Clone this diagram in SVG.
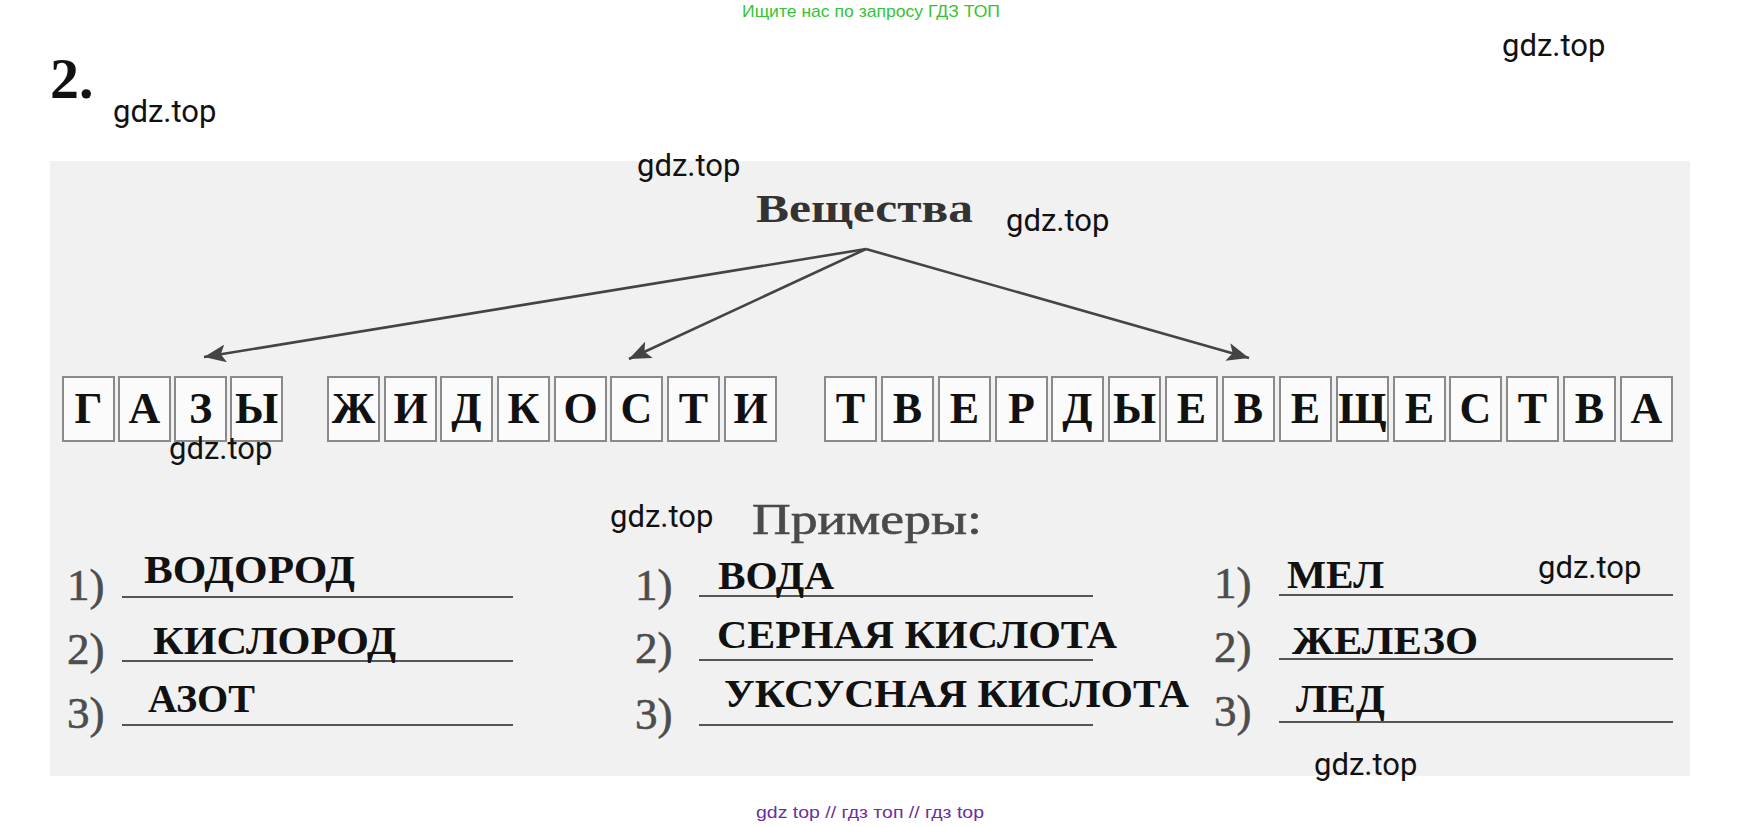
<svg xmlns="http://www.w3.org/2000/svg" width="1743" height="827" viewBox="0 0 1743 827">
<style>
.wm{font-family:Roboto,"Liberation Sans",sans-serif;font-size:31px;fill:#111}
.box{fill:#fbfbfb;stroke:#8a8a8a;stroke-width:2}
.let{font-family:"Liberation Serif","DejaVu Serif",serif;font-weight:bold;font-size:44px;fill:#111;text-anchor:middle}
.num{font-family:"Liberation Serif","DejaVu Serif",serif;font-size:45px;fill:#4d4d4d;stroke:#4d4d4d;stroke-width:0.6}
.ans{font-family:"Liberation Serif","DejaVu Serif",serif;font-weight:bold;font-size:40px;fill:#111}
.ul{stroke:#555;stroke-width:2.2}
.arr{stroke:#444;stroke-width:2.6;fill:none;marker-end:url(#ah)}
</style>
<defs>
<marker id="ah" markerUnits="userSpaceOnUse" markerWidth="24" markerHeight="18" refX="22" refY="9" orient="auto">
<path d="M0,0 L22,9 L0,18 L5,9 Z" fill="#444"/>
</marker>
</defs>
<rect width="1743" height="827" fill="#fff"/>
<rect x="50" y="161" width="1640" height="615" fill="#f1f1f1"/>
<text x="871" y="17" text-anchor="middle" font-family="'Liberation Sans',Arial,sans-serif" font-size="17" fill="#33c433" textLength="258" lengthAdjust="spacingAndGlyphs">Ищите нас по запросу ГДЗ ТОП</text>
<text x="50" y="98" font-family="'Liberation Serif',serif" font-weight="bold" font-size="58" fill="#111">2.</text>
<g id="substances">
<text x="756" y="222" font-family="'Liberation Serif',serif" font-weight="bold" font-size="40" fill="#333" textLength="217" lengthAdjust="spacingAndGlyphs">Вещества</text>
</g>
<g id="connectors">
<path class="arr" d="M866,249 L204,357"/>
<path class="arr" d="M866,249 L629,359"/>
<path class="arr" d="M866,249 L1249,358"/>
</g>
<g id="gases">
<rect class="box" x="63" y="377" width="51" height="64"/><text class="let" x="88.5" y="423">Г</text>
<rect class="box" x="119" y="377" width="51" height="64"/><text class="let" x="144.5" y="423">А</text>
<rect class="box" x="175" y="377" width="51" height="64"/><text class="let" x="200.5" y="423">З</text>
<rect class="box" x="231" y="377" width="51" height="64"/><text class="let" x="256.5" y="423">Ы</text>
</g>
<g id="liquids">
<rect class="box" x="328" y="377" width="51" height="64"/><text class="let" x="353.5" y="423">Ж</text>
<rect class="box" x="385" y="377" width="51" height="64"/><text class="let" x="410.5" y="423">И</text>
<rect class="box" x="441" y="377" width="51" height="64"/><text class="let" x="466.5" y="423">Д</text>
<rect class="box" x="498" y="377" width="51" height="64"/><text class="let" x="523.5" y="423">К</text>
<rect class="box" x="555" y="377" width="51" height="64"/><text class="let" x="580.5" y="423">О</text>
<rect class="box" x="611" y="377" width="51" height="64"/><text class="let" x="636.5" y="423">С</text>
<rect class="box" x="668" y="377" width="51" height="64"/><text class="let" x="693.5" y="423">Т</text>
<rect class="box" x="725" y="377" width="51" height="64"/><text class="let" x="750.5" y="423">И</text>
</g>
<g id="solids">
<rect class="box" x="825" y="377" width="51" height="64"/><text class="let" x="850.5" y="423">Т</text>
<rect class="box" x="882" y="377" width="51" height="64"/><text class="let" x="907.5" y="423">В</text>
<rect class="box" x="939" y="377" width="51" height="64"/><text class="let" x="964.5" y="423">Е</text>
<rect class="box" x="996" y="377" width="51" height="64"/><text class="let" x="1021.5" y="423">Р</text>
<rect class="box" x="1052" y="377" width="51" height="64"/><text class="let" x="1077.5" y="423">Д</text>
<rect class="box" x="1109" y="377" width="51" height="64"/><text class="let" x="1134.5" y="423">Ы</text>
<rect class="box" x="1166" y="377" width="51" height="64"/><text class="let" x="1191.5" y="423">Е</text>
<rect class="box" x="1223" y="377" width="51" height="64"/><text class="let" x="1248.5" y="423">В</text>
<rect class="box" x="1280" y="377" width="51" height="64"/><text class="let" x="1305.5" y="423">Е</text>
<rect class="box" x="1337" y="377" width="51" height="64"/><text class="let" x="1362.5" y="423">Щ</text>
<rect class="box" x="1394" y="377" width="51" height="64"/><text class="let" x="1419.5" y="423">Е</text>
<rect class="box" x="1450" y="377" width="51" height="64"/><text class="let" x="1475.5" y="423">С</text>
<rect class="box" x="1507" y="377" width="51" height="64"/><text class="let" x="1532.5" y="423">Т</text>
<rect class="box" x="1564" y="377" width="51" height="64"/><text class="let" x="1589.5" y="423">В</text>
<rect class="box" x="1621" y="377" width="51" height="64"/><text class="let" x="1646.5" y="423">А</text>
</g>
<g id="examples-title">
<text x="752" y="534" font-family="'Liberation Serif',serif" font-size="45" fill="#4a4a4a" stroke="#4a4a4a" stroke-width="0.6" textLength="230" lengthAdjust="spacingAndGlyphs">Примеры:</text>
</g>
<g id="examples-gases">
<text class="num" x="67" y="600">1)</text><line class="ul" x1="122" y1="597" x2="513" y2="597"/>
<text class="ans" x="144" y="583" textLength="211" lengthAdjust="spacingAndGlyphs">ВОДОРОД</text>
<text class="num" x="67" y="664">2)</text><line class="ul" x1="122" y1="661" x2="513" y2="661"/>
<text class="ans" x="153" y="654" textLength="243" lengthAdjust="spacingAndGlyphs">КИСЛОРОД</text>
<text class="num" x="67" y="728">3)</text><line class="ul" x1="122" y1="725" x2="513" y2="725"/>
<text class="ans" x="148" y="712" textLength="107" lengthAdjust="spacingAndGlyphs">АЗОТ</text>
</g>
<g id="examples-liquids">
<text class="num" x="635" y="600">1)</text><line class="ul" x1="699" y1="596" x2="1093" y2="596"/>
<text class="ans" x="718" y="589" textLength="116" lengthAdjust="spacingAndGlyphs">ВОДА</text>
<text class="num" x="635" y="663">2)</text><line class="ul" x1="699" y1="660" x2="1093" y2="660"/>
<text class="ans" x="717" y="648" textLength="400" lengthAdjust="spacingAndGlyphs">СЕРНАЯ КИСЛОТА</text>
<text class="num" x="635" y="729">3)</text><line class="ul" x1="699" y1="725" x2="1093" y2="725"/>
<text class="ans" x="724" y="707" textLength="465" lengthAdjust="spacingAndGlyphs">УКСУСНАЯ КИСЛОТА</text>
</g>
<g id="examples-solids">
<text class="num" x="1214" y="598">1)</text><line class="ul" x1="1279" y1="595" x2="1673" y2="595"/>
<text class="ans" x="1287" y="588" textLength="97" lengthAdjust="spacingAndGlyphs">МЕЛ</text>
<text class="num" x="1214" y="662">2)</text><line class="ul" x1="1279" y1="659" x2="1673" y2="659"/>
<text class="ans" x="1292" y="654" textLength="186" lengthAdjust="spacingAndGlyphs">ЖЕЛЕЗО</text>
<text class="num" x="1214" y="726">3)</text><line class="ul" x1="1279" y1="722" x2="1673" y2="722"/>
<text class="ans" x="1296" y="712" textLength="89" lengthAdjust="spacingAndGlyphs">ЛЕД</text>
</g>
<text x="870" y="818" text-anchor="middle" font-family="'Liberation Sans',Arial,sans-serif" font-size="17" fill="#6b2fa0" textLength="228" lengthAdjust="spacingAndGlyphs">gdz top // гдз топ // гдз top</text>
<g id="watermarks">
<text class="wm" x="1502" y="56">gdz.top</text>
<text class="wm" x="113" y="122">gdz.top</text>
<text class="wm" x="637" y="176">gdz.top</text>
<text class="wm" x="1006" y="231">gdz.top</text>
<text class="wm" x="169" y="459">gdz.top</text>
<text class="wm" x="610" y="527">gdz.top</text>
<text class="wm" x="1538" y="578">gdz.top</text>
<text class="wm" x="1314" y="775">gdz.top</text>
</g>
</svg>
